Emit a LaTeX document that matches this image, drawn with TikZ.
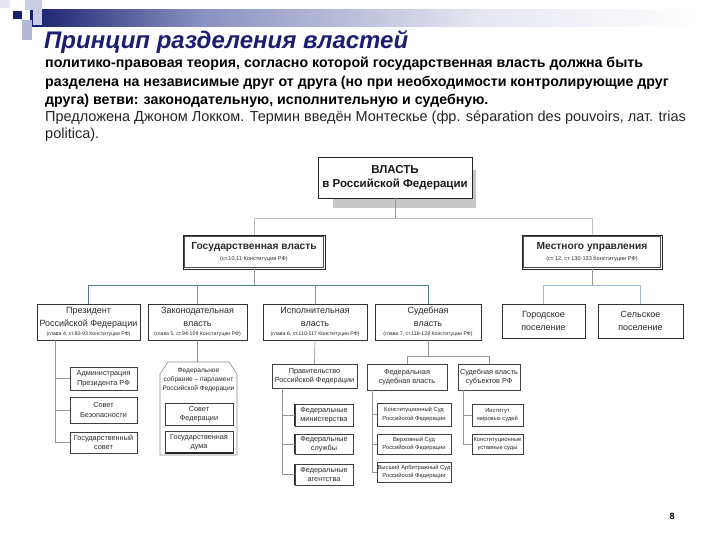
\documentclass[tikz,border=0pt]{standalone}
\usepackage{fontspec}
\setmainfont{Liberation Sans}
\usetikzlibrary{shadows}
\definecolor{navy}{HTML}{1A1F70}
\definecolor{navymid}{HTML}{8A90C0}
\definecolor{navylight}{HTML}{E6E7F1}
\definecolor{sq1}{HTML}{C9CCE2}
\definecolor{sq2}{HTML}{B4B8D6}
\definecolor{conn}{HTML}{8E979C}
\definecolor{teal}{HTML}{4F7A8A}
\definecolor{lblue}{HTML}{9DB9D0}
\definecolor{boxtxt}{HTML}{2A2A2A}
\newcommand\bx[7]{\node[#2, minimum width={(#5-#3)*1pt}, minimum height={(#6-#4)*1pt}] (#1) at ({(#3+#5)/2},{(#4+#6)/2}) {#7};}
\newcommand\fsz[2]{\fontsize{#1}{#2}\selectfont}
\begin{document}
\begin{tikzpicture}[x=1pt,y=-1pt,
  line/.style={draw=conn, line width=0.7pt},
  topbox/.style={draw=black!85, line width=0.6pt, fill=white, align=center, inner sep=0pt, text=black!90, font=\bfseries\fsz{11.5}{14}},
  dbox/.style={draw=black!85, line width=0.7pt, fill=white, align=center, inner sep=0pt, text=boxtxt,
     drop shadow={shadow xshift=1.2pt, shadow yshift=-1.2pt, fill=black!70, opacity=1}},
  inner/.style={draw=black!70, line width=0.5pt},
  lvbox/.style={draw=black!80, line width=0.6pt, fill=white, align=center, inner sep=0pt, text=boxtxt, font=\fsz{9}{12.5},
     drop shadow={shadow xshift=1.3pt, shadow yshift=-1.3pt, fill=black!70, opacity=1}},
  smbox/.style={draw=black!75, line width=0.5pt, fill=white, align=center, inner sep=0pt, text=boxtxt, font=\fsz{7.3}{9.5},
     drop shadow={shadow xshift=1pt, shadow yshift=-1pt, fill=black!60, opacity=1}},
  crbox/.style={draw=black!75, line width=0.5pt, fill=white, align=center, inner sep=0pt, text=boxtxt, font=\fsz{5.8}{8.5},
     drop shadow={shadow xshift=1pt, shadow yshift=-1pt, fill=black!60, opacity=1}},
  plain/.style={align=center, inner sep=0pt, text=boxtxt}
]
\useasboundingbox (0,0) rectangle (720,540);
\fill[white] (0,0) rectangle (720,540);
% header decoration
\shade[left color=navy, right color=navymid] (30,10) rectangle (200,27);
\shade[left color=navymid, right color=navylight] (200,10) rectangle (480,27);
\shade[left color=navylight, right color=white] (480,10) rectangle (700,27);
\fill[navylight] (0,0) rectangle (10,8);
\fill[sq1] (25,0) rectangle (33,10);
\fill[sq1] (33,0) rectangle (42,25);
\fill[sq2] (22,20) rectangle (32,40);
\fill[navy] (12,10) rectangle (22,19);
\draw[white, line width=0.6pt] (12,10) rectangle (22,19);
% title and text
\node[anchor=base west, inner sep=0pt, text=navy, font=\bfseries\itshape\fsz{24}{28}] (title) at (44,49) {Принцип разделения властей};
\node[anchor=base west, inner sep=0pt, font=\bfseries\fsz{14.2}{16}] (t1) at (45,68) {политико-правовая теория, согласно которой государственная власть должна быть};
\node[anchor=base west, inner sep=0pt, font=\bfseries\fsz{14.2}{16}] (t2) at (45,87) {разделена на независимые друг от друга (но при необходимости контролирующие друг};
\node[anchor=base west, inner sep=0pt, font=\bfseries\fsz{14.2}{16}] (t3) at (45,105) {друга) ветви: законодательную, исполнительную и судебную.};
\node[anchor=base west, inner sep=0pt, text=black!85, font=\fsz{14.5}{16}] (t4) at (45,122) {Предложена Джоном Локком. Термин введён Монтескье (фр. séparation des pouvoirs, лат. trias};
\node[anchor=base west, inner sep=0pt, text=black!85, font=\fsz{14.5}{16}] (t5) at (45,139) {politica).};
% top box
\fill[black!22] (333,170) rectangle (476,208);
\bx{vlast}{topbox}{318}{157}{472}{198}{ВЛАСТЬ\\в Российской Федерации}
% level 2
\bx{gos}{dbox}{183}{235}{325}{269}{{\bfseries\fsz{10.2}{13}Государственная власть}\\[-1pt]{\fsz{5.6}{7}(ст.10,11 Конституции РФ)}}
\draw[inner] ([shift={(2,2)}]gos.north west) rectangle ([shift={(-2,-2)}]gos.south east);
\bx{mest}{dbox}{522}{235}{662}{269}{{\bfseries\fsz{10.2}{13}Местного управления}\\[-1pt]{\fsz{5.6}{7}(ст 12, ст 130-133 Конституции РФ)}}
\draw[inner] ([shift={(2,2)}]mest.north west) rectangle ([shift={(-2,-2)}]mest.south east);
% level 3
\bx{pres}{lvbox}{37}{304}{140}{340}{Президент\\Российской Федерации\\[-3pt]{\fsz{5.2}{6}(глава 4, ст.80-93 Конституции РФ)}}
\bx{zak}{lvbox}{148}{304}{247}{340}{Законодательная\\власть\\[-3pt]{\fsz{5.2}{6}(глава 5, ст.94-109 Конституции РФ)}}
\bx{isp}{lvbox}{263}{304}{367}{340}{Исполнительная\\власть\\[-3pt]{\fsz{5.2}{6}(глава 6, ст.110-117 Конституции РФ)}}
\bx{sud}{lvbox}{375}{304}{481}{340}{Судебная\\власть\\[-3pt]{\fsz{5.2}{6}(глава 7, ст.118-128 Конституции РФ)}}
\bx{gor}{lvbox}{502}{304}{585}{338}{Городское\\поселение}
\bx{sel}{lvbox}{598}{304}{683}{338}{Сельское\\поселение}
% president children
\bx{adm}{smbox}{70}{367}{137}{390}{Администрация\\Президента РФ}
\bx{sb}{smbox}{70}{397}{137}{423}{Совет\\Безопасности}
\bx{gsov}{smbox}{70}{432}{137}{453}{Государственный\\совет}
% federal assembly
\draw[draw=black!45, line width=0.6pt, fill=white] (160,455) -- (160,374) -- (168,362) -- (229,362) -- (237,374) -- (237,455) -- cycle;
\coordinate (fstop) at (197.5,362);
\node[plain, font=\fsz{6.6}{9}] (fs) at (198.5,379.5) {Федеральное\\собрание – парламент\\Российской Федерации};
\bx{sf}{smbox}{165}{403}{233}{425}{Совет\\Федерации}
\bx{gd}{smbox}{165}{431}{233}{453}{Государственная\\дума}
\draw[black!85, line width=1.6pt] (gd.south west) -- (gd.south east);
% executive children
\bx{prav}{smbox}{272}{364}{357}{388}{Правительство\\Российской Федерации}
\bx{fmin}{smbox}{295}{404}{353}{426}{Федеральные\\министерства}
\bx{fsl}{smbox}{295}{434}{353}{454}{Федеральные\\службы}
\bx{fag}{smbox}{295}{464}{353}{485}{Федеральные\\агентства}
\draw[black!85, line width=1.4pt] (fmin.north west) -- (fmin.south west);
\draw[black!85, line width=1.4pt] (fsl.north west) -- (fsl.south west);
\draw[black!85, line width=1.4pt] (fag.north west) -- (fag.south west);
% judicial children
\bx{fsv}{smbox}{367}{364}{447}{390}{Федеральная\\судебная власть}
\bx{ssv}{smbox}{458}{364}{520}{390}{Судебная власть\\субъектов РФ}
\bx{ks}{crbox}{377}{403}{451}{426}{Конституционный Суд\\Российской Федерации}
\bx{vs}{crbox}{377}{434}{451}{454}{Верховный Суд\\Российской Федерации}
\bx{vas}{crbox}{377}{462}{451}{482}{Высший Арбитражный Суд\\Российской Федерации}
\bx{ims}{crbox}{472}{404}{523}{426}{Институт\\мировых судей}
\bx{kus}{crbox}{472}{434}{523}{454}{Конституционные\\уставные суды}
% connectors
\draw[line, draw=black!40] (vlast.south) -- ++(0,20) coordinate (j0);
\draw[line, draw=black!25] (gos.north) |- (j0) -| (mest.north);
\draw[line] (gos.south) -- ++(0,16) coordinate (j1);
\draw[line, draw=teal] (pres.north) |- (j1) -| (sud.north);
\draw[line] (zak.north) -- (zak.north |- j1);
\draw[line] (isp.north) -- (isp.north |- j1);
\draw[line] (mest.south) -- ++(0,16) coordinate (j2);
\draw[line, draw=lblue, line width=1pt] (gor.north) |- (j2) -| (sel.north);
\coordinate (pb) at (55,340);
\draw[line] (pb) |- (adm.west);
\draw[line] (pb) |- (sb.west);
\draw[line] (pb) |- (gsov.west);
\draw[line] (zak.south) -- (fstop);
\draw[line] (isp.south) -- (prav.north);
\coordinate (eb) at (282,388);
\draw[line] (eb) |- (fmin.west);
\draw[line] (eb) |- (fsl.west);
\draw[line] (eb) |- (fag.west);
\draw[line] (sud.south) -- ++(0,16) coordinate (j3);
\draw[line] (fsv.north) |- (j3) -| (ssv.north);
\coordinate (fb) at (372,390);
\draw[line] (fb) |- (ks.west);
\draw[line] (fb) |- (vs.west);
\draw[line] (fb) |- (vas.west);
\coordinate (sb2) at (463,390);
\draw[line] (sb2) |- (ims.west);
\draw[line] (sb2) |- (kus.west);
% page number
\node[anchor=base, inner sep=0pt, font=\bfseries\fsz{9}{11}] (pg) at (672,519) {8};
\end{tikzpicture}
\end{document}
